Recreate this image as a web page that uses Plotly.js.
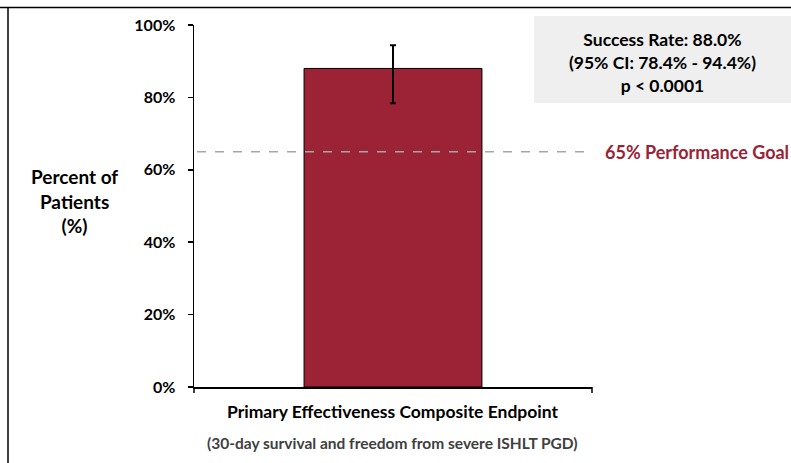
<!DOCTYPE html>
<html><head><meta charset="utf-8">
<script src="https://cdn.plot.ly/plotly-3.0.1.min.js"></script>
<style>html,body{margin:0;padding:0;background:#fff}#chart{width:791px;height:463px}</style>
</head><body><div id="chart"></div>
<script>
const categories = ["Primary Effectiveness Composite Endpoint"];
const successRate = [88.0];
const ciLower = [78.4];
const ciUpper = [94.4];
const performanceGoal = 65;
const yTicks = [0, 20, 40, 60, 80, 100];
const subtitle = "(30-day survival and freedom from severe ISHLT PGD)";
const boxLines = ["Success Rate: 88.0%", "(95% CI: 78.4% - 94.4%)", "p < 0.0001"];

const F = "Lato, 'Open Sans', sans-serif";
const L = 194, R = 592, T = 25, B = 387;
const px = v => (v - L) / (R - L);
const py = v => (B - v) / (B - T);

const trace = {
  type: 'bar', x: categories, y: successRate, width: 0.447,
  marker: {color: '#9B2335', line: {color: '#000', width: 1}},
  error_y: {type: 'data', symmetric: false,
    array: successRate.map((v, i) => ciUpper[i] - v),
    arrayminus: successRate.map((v, i) => v - ciLower[i]),
    color: '#000', thickness: 2, width: 3},
  hoverinfo: 'skip'
};

const layout = {
  width: 791, height: 463,
  margin: {l: L, r: 791 - R, t: T, b: 463 - B},
  paper_bgcolor: '#fff', plot_bgcolor: '#fff',
  showlegend: false,
  font: {family: F, color: '#000'},
  xaxis: {range: [-0.5, 0.5], showline: true, linecolor: '#000', linewidth: 1.5,
    ticks: '', showticklabels: false, showgrid: false, zeroline: false, fixedrange: true},
  yaxis: {range: [0, 100], tickvals: yTicks, ticktext: yTicks.map(v => v + '%'),
    showline: true, linecolor: '#000', linewidth: 1.5, ticks: 'outside', ticklen: 5,
    tickwidth: 1.5, tickcolor: '#000', showgrid: false, zeroline: false,
    tickfont: {family: F, size: 16, color: '#000', weight: 'bold'}, ticklabelstandoff: 9,
    fixedrange: true},
  shapes: [
    {type: 'line', xref: 'paper', yref: 'paper', x0: px(0), x1: px(791), y0: py(7.5), y1: py(7.5), line: {color: '#000', width: 1.5}},
    {type: 'line', xref: 'paper', yref: 'paper', x0: px(8), x1: px(8), y0: py(7.5), y1: py(463), line: {color: '#000', width: 1.5}},
    {type: 'line', xref: 'paper', yref: 'paper', x0: 0, x1: 0, y0: 0, y1: py(393), line: {color: '#000', width: 1.5}},
    {type: 'line', xref: 'paper', yref: 'paper', x0: 1, x1: 1, y0: 0, y1: py(393), line: {color: '#000', width: 1.5}},
    {type: 'rect', xref: 'paper', yref: 'paper', x0: px(534), x1: px(791), y0: py(103), y1: py(16), fillcolor: '#EFEFEF', line: {width: 0}, layer: 'below'},
    {type: 'line', xref: 'paper', yref: 'y', x0: px(197), x1: px(592), y0: performanceGoal, y1: performanceGoal, line: {color: '#A6A6A6', width: 1.5, dash: 'dash'}}
  ],
  annotations: [
    {xref: 'paper', yref: 'paper', x: px(662), y: py(62), text: boxLines.join('<br>'), showarrow: false,
      font: {family: F, size: 17.5, color: '#000', weight: 'bold'}, align: 'center', xanchor: 'center', yanchor: 'middle'},
    {xref: 'paper', yref: 'y', x: px(603), y: performanceGoal, text: performanceGoal + '% Performance Goal', showarrow: false,
      font: {family: F, size: 18, color: '#9B2335', weight: 'bold'}, xanchor: 'left', yanchor: 'middle'},
    {xref: 'paper', yref: 'paper', x: px(74), y: py(201), text: 'Percent of<br>Patients<br>(%)', showarrow: false,
      font: {family: F, size: 19, color: '#000', weight: 'bold'}, align: 'center', xanchor: 'center', yanchor: 'middle'},
    {xref: 'paper', yref: 'paper', x: px(393), y: py(411), text: categories[0], showarrow: false,
      font: {family: F, size: 17.5, color: '#000', weight: 'bold'}, xanchor: 'center', yanchor: 'middle'},
    {xref: 'paper', yref: 'paper', x: px(392), y: py(443), text: subtitle, showarrow: false,
      font: {family: F, size: 15.5, color: '#404040', weight: 'bold'}, xanchor: 'center', yanchor: 'middle'}
  ]
};

Plotly.newPlot('chart', [trace], layout, {displayModeBar: false, staticPlot: true});
</script></body></html>
